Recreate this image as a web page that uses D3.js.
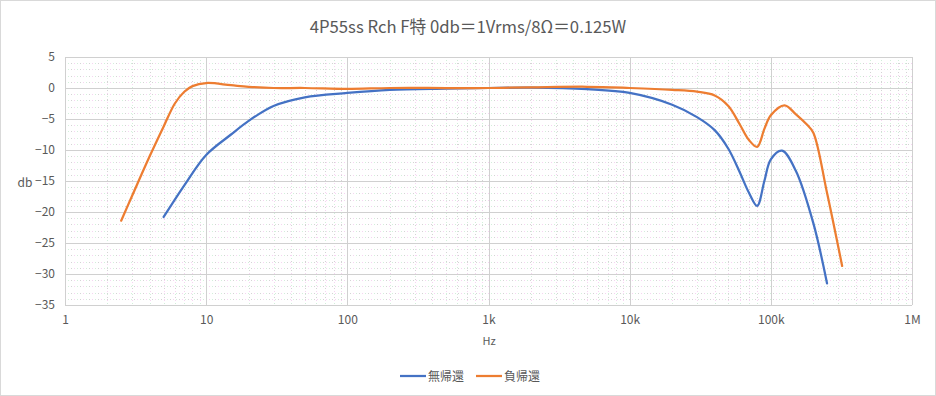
<!DOCTYPE html>
<html>
<head>
<meta charset="utf-8">
<script src="https://cdn.jsdelivr.net/npm/d3@7"></script>
<style>
  html, body { margin: 0; padding: 0; background: #fff; }
  text { font-family: "Noto Sans CJK JP", "Noto Sans", sans-serif; fill: #595959; }
</style>
</head>
<body>
<div id="chart"></div>
<script>
const title = "4P55ss Rch F特 0db＝1Vrms/8Ω＝0.125W";

// 無帰還 (no feedback)
const blueFreq = [5, 7, 10, 15, 20, 30, 50, 100, 200, 500, 1000, 2000, 5000, 10000, 20000, 30000, 40000, 50000, 60000, 70000, 80000, 90000, 100000, 120000, 150000, 200000, 250000];
const blueDb   = [-20.8, -15.7, -10.8, -7.5, -5.3, -2.9, -1.5, -0.8, -0.3, -0.1, 0, 0.05, -0.2, -0.8, -2.7, -4.7, -6.8, -9.8, -13.5, -16.9, -19.0, -15.0, -11.5, -10.1, -13.3, -21.8, -31.5];

// 負帰還 (negative feedback)
const orangeFreq = [2.5, 3, 4, 5, 6, 7, 8, 10, 15, 20, 30, 50, 100, 200, 500, 1000, 2000, 5000, 10000, 20000, 30000, 40000, 50000, 60000, 70000, 80000, 90000, 100000, 125000, 150000, 180000, 200000, 250000, 320000];
const orangeDb   = [-21.4, -17.3, -10.9, -6.2, -2.5, -0.6, 0.3, 0.8, 0.45, 0.2, 0.0, 0.0, -0.15, 0.0, 0.0, 0.0, 0.1, 0.2, 0.0, -0.3, -0.6, -1.2, -2.9, -5.8, -8.4, -9.5, -6.6, -4.4, -2.8, -4.2, -5.9, -7.2, -16.9, -28.7];

const xTicks = [1, 10, 100, 1e3, 1e4, 1e5, 1e6];
const xTickLabels = ["1", "10", "100", "1k", "10k", "100k", "1M"];
const yTicks = [5, 0, -5, -10, -15, -20, -25, -30, -35];

const series = [
  { name: "無帰還", color: "#4472C4", freq: blueFreq, db: blueDb },
  { name: "負帰還", color: "#ED7D31", freq: orangeFreq, db: orangeDb }
];

const W = 936, H = 396;
const svg = d3.select("#chart").append("svg").attr("width", W).attr("height", H);

svg.append("rect").attr("x", 0.5).attr("y", 0.5).attr("width", W - 1).attr("height", H - 1)
  .attr("fill", "#fff").attr("stroke", "#d9d9d9");

const x = d3.scaleLog().domain([1, 1e6]).range([65, 912]);
const y = d3.scaleLinear().domain([-35, 5]).range([305, 57]);

const grid = svg.append("g");
// minor gridlines (dotted pastel)
const minorX = [];
for (let d = 1; d < 1e6; d *= 10) for (let k = 2; k <= 9; k++) minorX.push(d * k);
const minorY = d3.range(-35, 5).filter(v => v % 5 !== 0);
const dotColors = ["#f6d4f2", "#d2f0da", "#d4d4d4"];
dotColors.forEach((c, i) => {
  grid.selectAll(null).data(minorX).enter().append("line")
    .attr("x1", d => Math.round(x(d)) + 0.5).attr("x2", d => Math.round(x(d)) + 0.5)
    .attr("y1", y(5)).attr("y2", y(-35))
    .attr("stroke", c).attr("stroke-dasharray", "1,8").attr("stroke-dashoffset", -i * 3);
  grid.selectAll(null).data(minorY).enter().append("line")
    .attr("y1", d => Math.round(y(d)) + 0.5).attr("y2", d => Math.round(y(d)) + 0.5)
    .attr("x1", x(1)).attr("x2", x(1e6))
    .attr("stroke", c).attr("stroke-dasharray", "1,8").attr("stroke-dashoffset", -i * 3);
});
// major gridlines
grid.selectAll(null).data(xTicks).enter().append("line")
  .attr("x1", d => Math.round(x(d)) + 0.5).attr("x2", d => Math.round(x(d)) + 0.5)
  .attr("y1", y(5)).attr("y2", y(-35)).attr("stroke", "#d0d0d0");
grid.selectAll(null).data(yTicks).enter().append("line")
  .attr("y1", d => Math.round(y(d)) + 0.5).attr("y2", d => Math.round(y(d)) + 0.5)
  .attr("x1", x(1)).attr("x2", x(1e6)).attr("stroke", "#d0d0d0");

// axes labels
const xAxis = svg.append("g").attr("transform", `translate(0,${y(-35)})`)
  .call(d3.axisBottom(x).tickValues(xTicks).tickFormat((d, i) => xTickLabels[i]).tickSize(0).tickPadding(10));
const yAxis = svg.append("g").attr("transform", `translate(${x(1)},0)`)
  .call(d3.axisLeft(y).tickValues(yTicks).tickSize(0).tickPadding(10));
[xAxis, yAxis].forEach(a => {
  a.select(".domain").remove();
  a.selectAll("text").attr("fill", "#595959").style("font-size", "12px")
    .style("font-family", "\"Noto Sans CJK JP\", sans-serif");
});

// curves
const line = d3.line()
  .x(d => x(d[0])).y(d => y(d[1]))
  .curve(d3.curveCatmullRom.alpha(0.5));
series.forEach(s => {
  svg.append("path")
    .datum(s.freq.map((f, i) => [f, s.db[i]]))
    .attr("d", line).attr("fill", "none")
    .attr("stroke", s.color).attr("stroke-width", 2.25)
    .attr("stroke-linecap", "round").attr("stroke-linejoin", "round");
});

// title & axis titles
svg.append("text").attr("x", 468).attr("y", 33).attr("text-anchor", "middle")
  .style("font-size", "16.7px").text(title);
svg.append("text").attr("x", 25).attr("y", 187).attr("text-anchor", "middle")
  .style("font-size", "12px").text("db");
svg.append("text").attr("x", 489).attr("y", 345).attr("text-anchor", "middle")
  .style("font-size", "11px").text("Hz");

// legend
const legend = svg.append("g");
const legX = [400, 476];
series.forEach((s, i) => {
  const g = legend.append("g").attr("transform", `translate(${legX[i]},376)`);
  g.append("line").attr("x1", 0).attr("x2", 26).attr("stroke", s.color).attr("stroke-width", 2.25);
  g.append("text").attr("x", 28).attr("y", 4.5).style("font-size", "12px").text(s.name);
});
</script>
</body>
</html>
